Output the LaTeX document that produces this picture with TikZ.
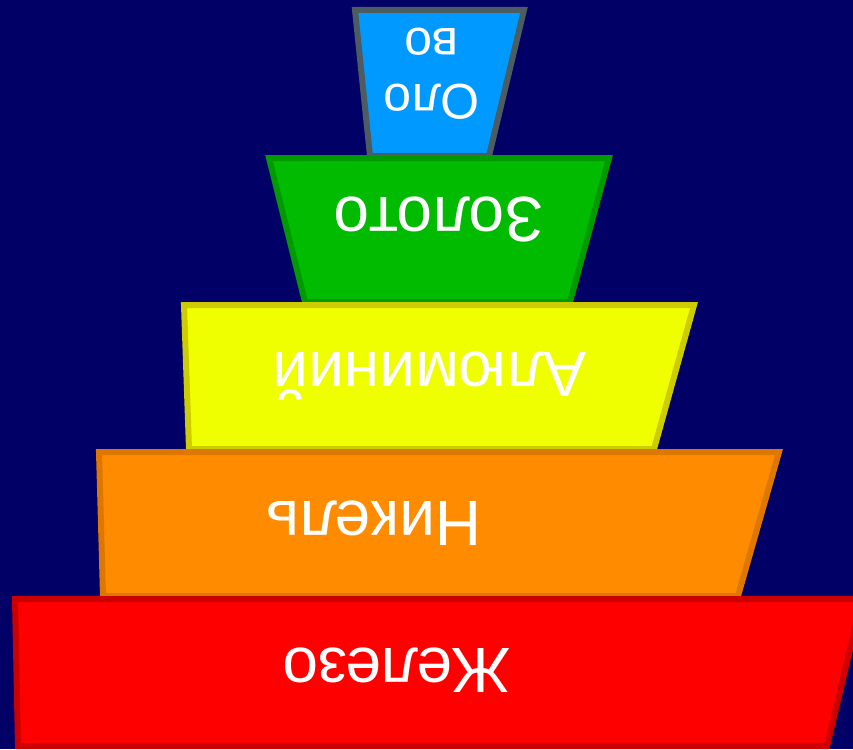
\documentclass[tikz,border=0pt]{standalone}
\usepackage{fontspec}
\setmainfont{Liberation Sans}
\definecolor{bgnavy}{HTML}{000066}
\definecolor{bluefill}{HTML}{0099FF}
\definecolor{blueline}{HTML}{4D5C60}
\definecolor{greenfill}{HTML}{00BB00}
\definecolor{greenline}{HTML}{009900}
\definecolor{yellowfill}{HTML}{F0FF00}
\definecolor{yellowline}{HTML}{CCCC00}
\definecolor{orangefill}{HTML}{FF8C00}
\definecolor{orangeline}{HTML}{DD7700}
\definecolor{redfill}{HTML}{FF0000}
\definecolor{redline}{HTML}{CC0000}
\tikzset{
  layer/.style={line width=6pt, line join=miter},
  lbl/.style={text=white, rotate=180, inner sep=0pt, font=\fontsize{64}{74}\selectfont},
  lblsmall/.style={text=white, rotate=180, inner sep=0pt, align=center, font=\fontsize{50}{56}\selectfont},
}
\begin{document}
\begin{tikzpicture}[x=1pt,y=-1pt]
\fill[bgnavy] (0,0) rectangle (853,749);
\useasboundingbox (0,0) rectangle (853,749);
\begin{scope}
\clip (0,0) rectangle (853,749);
\draw[layer, fill=bluefill, draw=blueline] (355,10) -- (524,10) -- (489,156) -- (370,156) -- cycle;
\draw[layer, fill=greenfill, draw=greenline] (269,158) -- (609,158) -- (570,302) -- (305,302) -- cycle;
\draw[layer, fill=yellowfill, draw=yellowline] (184,305) -- (694,305) -- (654,449) -- (189,449) -- cycle;
\draw[layer, fill=orangefill, draw=orangeline] (99,452) -- (779,452) -- (738,596) -- (103,596) -- cycle;
\draw[layer, fill=redfill, draw=redline] (15,599) -- (862,599) -- (827,746) -- (18,746) -- cycle;
\end{scope}
\node[lblsmall] (olovo) at (432,74) {Оло\\во};
\node[lbl] (zoloto) at (439,220) {Золото};
\node[lbl] (alum) at (430,376) {Алюминий};
\node[lbl] (nikel) at (374,523) {Никель};
\node[lbl] (zhelezo) at (397,670) {Железо};
\end{tikzpicture}
\end{document}
